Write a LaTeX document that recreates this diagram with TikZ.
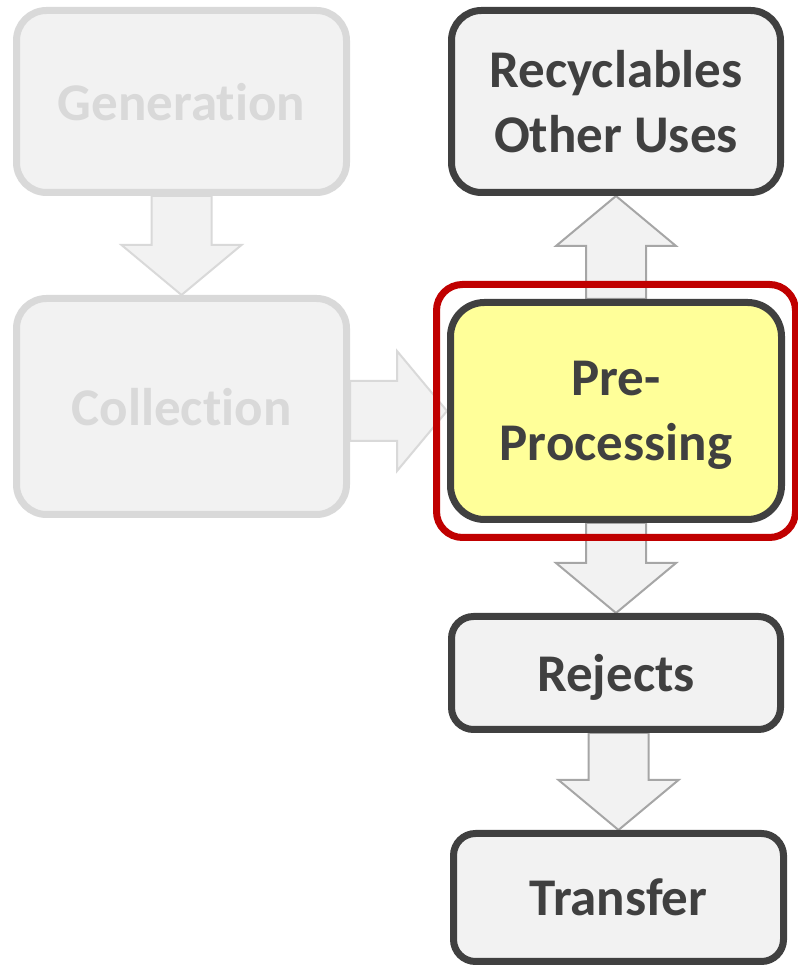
\documentclass[tikz,border=0pt]{standalone}
\usepackage{fontspec}
\setmainfont{Carlito}[Ligatures=CommonOff]
\usepackage{tikz}
\usetikzlibrary{calc,fit,backgrounds}

\definecolor{inkdark}{HTML}{404040}
\definecolor{boxfill}{HTML}{F2F2F2}
\definecolor{fadeline}{HTML}{D9D9D9}
\definecolor{arrowline}{HTML}{A6A6A6}
\definecolor{hilite}{HTML}{FFFF99}
\definecolor{framered}{HTML}{C00000}

% wide block arrow from #2 to #3, tip on #3
\newcommand{\blockarrow}[3]{%
  \draw[#1] ($(#2)!30pt!90:(#3)$) -- ($(#3)!50pt!(#2)!30pt!90:(#3)$)
    -- ($(#3)!50pt!(#2)!60pt!90:(#3)$) -- (#3)
    -- ($(#3)!50pt!(#2)!60pt!-90:(#3)$) -- ($(#3)!50pt!(#2)!30pt!-90:(#3)$)
    -- ($(#2)!30pt!-90:(#3)$) -- cycle;}

\begin{document}
\begin{tikzpicture}[x=1pt, y=1pt,
    stage/.style={draw=inkdark, line width=7pt, fill=boxfill, rounded corners=30pt,
      align=center, text=inkdark, text depth=0pt, font=\fontsize{53}{65}\selectfont\bfseries},
    faded/.style={stage, draw=fadeline, text=fadeline},
    current/.style={stage, fill=hilite, rounded corners=34pt},
    small/.style={stage, rounded corners=22pt},
    focus/.style={draw=framered, line width=7pt, rounded corners=26pt},
    flow/.style={draw=arrowline, line width=2pt, fill=boxfill, line join=miter},
    fadedflow/.style={flow, draw=fadeline}
]
\useasboundingbox (0,0) rectangle (797,968);

\node[faded, minimum width=330pt, minimum height=182pt] (gen) at (181.5,866.5) {Generation};
\node[faded, minimum width=330pt, minimum height=216pt] (coll) at (181.5,561.5) {Collection};
\node[stage, minimum width=329pt, minimum height=182pt] (recyc) at (616,866.5) {Recyclables\\Other Uses};
\node[current, minimum width=331pt, minimum height=217pt] (pre) at (616,557) {Pre-\\Processing};
\node[small, minimum width=329pt, minimum height=113pt] (rej) at (616,295) {Rejects};
\node[small, minimum width=330pt, minimum height=128pt] (trans) at (618.5,70.5) {Transfer};

\node[focus, fit=(pre), inner xsep=10.5pt, inner ysep=14.5pt] (frame) {};

\begin{scope}[on background layer]
\blockarrow{fadedflow}{gen.south}{coll.north}
\blockarrow{fadedflow}{pre.west -| coll.east}{pre.west}
\blockarrow{flow}{pre.north}{recyc.south}
\blockarrow{flow}{pre.south}{rej.north}
\blockarrow{flow}{rej.south -| trans.north}{trans.north}
\end{scope}
\end{tikzpicture}
\end{document}
